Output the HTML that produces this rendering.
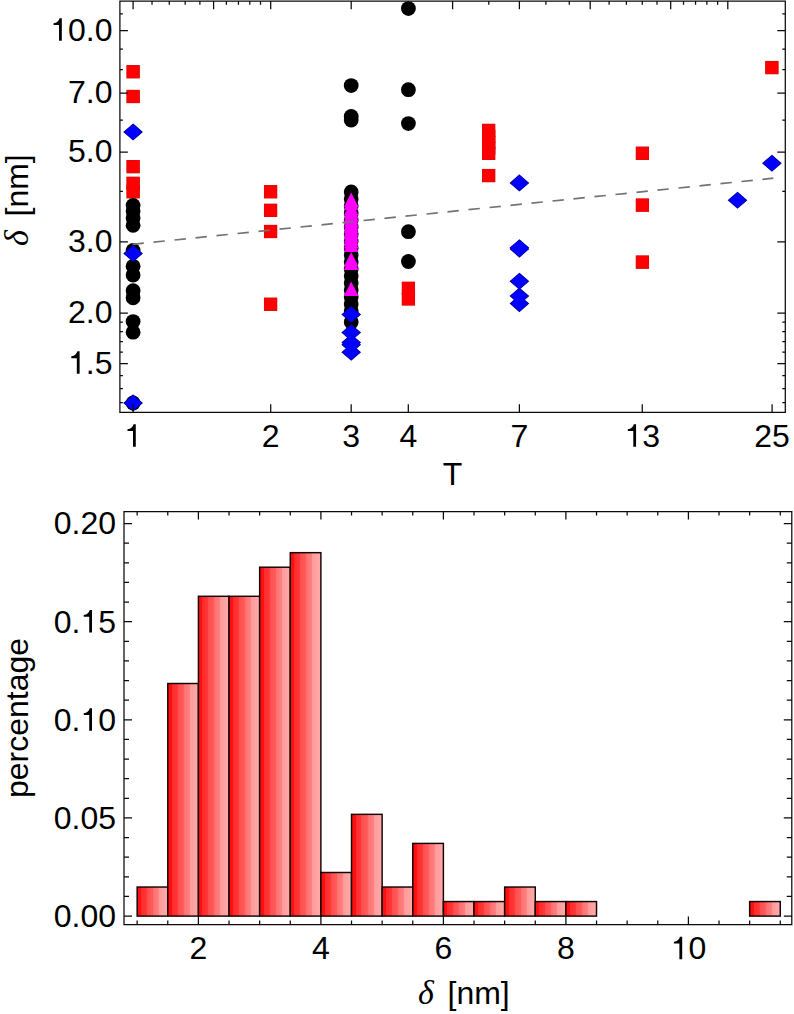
<!DOCTYPE html>
<html><head><meta charset="utf-8"><style>
html,body{margin:0;padding:0;background:#fff;}
body{width:794px;height:1014px;overflow:hidden;}
svg{display:block;}
</style></head><body>
<svg width="794" height="1014" viewBox="0 0 794 1014">
<rect width="794" height="1014" fill="#fff"/>
<g><rect x="126.90" y="65.60" width="12.4" height="12.4" fill="#c80000" stroke="#c80000" stroke-width="0.9"/><rect x="126.90" y="90.30" width="12.4" height="12.4" fill="#c80000" stroke="#c80000" stroke-width="0.9"/><rect x="126.90" y="160.50" width="12.4" height="12.4" fill="#c80000" stroke="#c80000" stroke-width="0.9"/><rect x="126.90" y="177.10" width="12.4" height="12.4" fill="#c80000" stroke="#c80000" stroke-width="0.9"/><rect x="126.90" y="185.60" width="12.4" height="12.4" fill="#c80000" stroke="#c80000" stroke-width="0.9"/><rect x="264.40" y="185.60" width="12.4" height="12.4" fill="#c80000" stroke="#c80000" stroke-width="0.9"/><rect x="264.40" y="204.10" width="12.4" height="12.4" fill="#c80000" stroke="#c80000" stroke-width="0.9"/><rect x="264.40" y="225.30" width="12.4" height="12.4" fill="#c80000" stroke="#c80000" stroke-width="0.9"/><rect x="264.40" y="298.00" width="12.4" height="12.4" fill="#c80000" stroke="#c80000" stroke-width="0.9"/><rect x="402.20" y="282.10" width="12.4" height="12.4" fill="#c80000" stroke="#c80000" stroke-width="0.9"/><rect x="402.20" y="292.70" width="12.4" height="12.4" fill="#c80000" stroke="#c80000" stroke-width="0.9"/><rect x="482.50" y="124.20" width="12.4" height="12.4" fill="#c80000" stroke="#c80000" stroke-width="0.9"/><rect x="482.50" y="130.30" width="12.4" height="12.4" fill="#c80000" stroke="#c80000" stroke-width="0.9"/><rect x="482.50" y="136.30" width="12.4" height="12.4" fill="#c80000" stroke="#c80000" stroke-width="0.9"/><rect x="482.50" y="141.80" width="12.4" height="12.4" fill="#c80000" stroke="#c80000" stroke-width="0.9"/><rect x="482.50" y="147.10" width="12.4" height="12.4" fill="#c80000" stroke="#c80000" stroke-width="0.9"/><rect x="482.50" y="169.40" width="12.4" height="12.4" fill="#c80000" stroke="#c80000" stroke-width="0.9"/><rect x="636.20" y="147.00" width="12.4" height="12.4" fill="#c80000" stroke="#c80000" stroke-width="0.9"/><rect x="636.20" y="198.90" width="12.4" height="12.4" fill="#c80000" stroke="#c80000" stroke-width="0.9"/><rect x="636.20" y="255.90" width="12.4" height="12.4" fill="#c80000" stroke="#c80000" stroke-width="0.9"/><rect x="765.70" y="61.40" width="12.4" height="12.4" fill="#c80000" stroke="#c80000" stroke-width="0.9"/><rect x="126.90" y="65.60" width="12.4" height="12.4" fill="#f00"/><rect x="126.90" y="90.30" width="12.4" height="12.4" fill="#f00"/><rect x="126.90" y="160.50" width="12.4" height="12.4" fill="#f00"/><rect x="126.90" y="177.10" width="12.4" height="12.4" fill="#f00"/><rect x="126.90" y="185.60" width="12.4" height="12.4" fill="#f00"/><rect x="264.40" y="185.60" width="12.4" height="12.4" fill="#f00"/><rect x="264.40" y="204.10" width="12.4" height="12.4" fill="#f00"/><rect x="264.40" y="225.30" width="12.4" height="12.4" fill="#f00"/><rect x="264.40" y="298.00" width="12.4" height="12.4" fill="#f00"/><rect x="402.20" y="282.10" width="12.4" height="12.4" fill="#f00"/><rect x="402.20" y="292.70" width="12.4" height="12.4" fill="#f00"/><rect x="482.50" y="124.20" width="12.4" height="12.4" fill="#f00"/><rect x="482.50" y="130.30" width="12.4" height="12.4" fill="#f00"/><rect x="482.50" y="136.30" width="12.4" height="12.4" fill="#f00"/><rect x="482.50" y="141.80" width="12.4" height="12.4" fill="#f00"/><rect x="482.50" y="147.10" width="12.4" height="12.4" fill="#f00"/><rect x="482.50" y="169.40" width="12.4" height="12.4" fill="#f00"/><rect x="636.20" y="147.00" width="12.4" height="12.4" fill="#f00"/><rect x="636.20" y="198.90" width="12.4" height="12.4" fill="#f00"/><rect x="636.20" y="255.90" width="12.4" height="12.4" fill="#f00"/><rect x="765.70" y="61.40" width="12.4" height="12.4" fill="#f00"/><circle cx="133.10" cy="205.50" r="7.4" fill="#000"/><circle cx="133.10" cy="211.00" r="7.4" fill="#000"/><circle cx="133.10" cy="218.00" r="7.4" fill="#000"/><circle cx="133.10" cy="225.30" r="7.4" fill="#000"/><circle cx="133.10" cy="250.50" r="7.4" fill="#000"/><circle cx="133.10" cy="266.30" r="7.4" fill="#000"/><circle cx="133.10" cy="275.00" r="7.4" fill="#000"/><circle cx="133.10" cy="290.70" r="7.4" fill="#000"/><circle cx="133.10" cy="297.80" r="7.4" fill="#000"/><circle cx="133.10" cy="321.60" r="7.4" fill="#000"/><circle cx="133.10" cy="332.20" r="7.4" fill="#000"/><circle cx="133.10" cy="403.00" r="7.4" fill="#000"/><circle cx="351.20" cy="85.60" r="7.4" fill="#000"/><circle cx="351.20" cy="116.50" r="7.4" fill="#000"/><circle cx="351.20" cy="120.00" r="7.4" fill="#000"/><circle cx="351.20" cy="191.90" r="7.4" fill="#000"/><circle cx="351.20" cy="198.90" r="7.4" fill="#000"/><circle cx="351.20" cy="205.90" r="7.4" fill="#000"/><circle cx="351.20" cy="212.90" r="7.4" fill="#000"/><circle cx="351.20" cy="219.90" r="7.4" fill="#000"/><circle cx="351.20" cy="226.90" r="7.4" fill="#000"/><circle cx="351.20" cy="233.90" r="7.4" fill="#000"/><circle cx="351.20" cy="240.90" r="7.4" fill="#000"/><circle cx="351.20" cy="247.90" r="7.4" fill="#000"/><circle cx="351.20" cy="254.90" r="7.4" fill="#000"/><circle cx="351.20" cy="261.90" r="7.4" fill="#000"/><circle cx="351.20" cy="268.90" r="7.4" fill="#000"/><circle cx="351.20" cy="275.90" r="7.4" fill="#000"/><circle cx="351.20" cy="282.90" r="7.4" fill="#000"/><circle cx="351.20" cy="289.90" r="7.4" fill="#000"/><circle cx="351.20" cy="296.90" r="7.4" fill="#000"/><circle cx="351.20" cy="303.90" r="7.4" fill="#000"/><circle cx="351.20" cy="310.90" r="7.4" fill="#000"/><circle cx="351.20" cy="322.00" r="7.4" fill="#000"/><circle cx="408.40" cy="8.60" r="7.4" fill="#000"/><circle cx="408.40" cy="89.70" r="7.4" fill="#000"/><circle cx="408.40" cy="123.60" r="7.4" fill="#000"/><circle cx="408.40" cy="231.70" r="7.4" fill="#000"/><circle cx="408.40" cy="261.50" r="7.4" fill="#000"/><path d="M351.20 192.50L358.50 207.10L343.90 207.10Z" fill="#f0f"/><path d="M351.20 195.50L358.50 210.10L343.90 210.10Z" fill="#f0f"/><path d="M351.20 201.00L358.50 215.60L343.90 215.60Z" fill="#f0f"/><path d="M351.20 204.00L358.50 218.60L343.90 218.60Z" fill="#f0f"/><path d="M351.20 207.00L358.50 221.60L343.90 221.60Z" fill="#f0f"/><path d="M351.20 210.00L358.50 224.60L343.90 224.60Z" fill="#f0f"/><path d="M351.20 213.00L358.50 227.60L343.90 227.60Z" fill="#f0f"/><path d="M351.20 216.00L358.50 230.60L343.90 230.60Z" fill="#f0f"/><path d="M351.20 219.00L358.50 233.60L343.90 233.60Z" fill="#f0f"/><path d="M351.20 222.00L358.50 236.60L343.90 236.60Z" fill="#f0f"/><path d="M351.20 225.00L358.50 239.60L343.90 239.60Z" fill="#f0f"/><path d="M351.20 228.00L358.50 242.60L343.90 242.60Z" fill="#f0f"/><path d="M351.20 231.00L358.50 245.60L343.90 245.60Z" fill="#f0f"/><path d="M351.20 234.00L358.50 248.60L343.90 248.60Z" fill="#f0f"/><path d="M351.20 237.30L358.50 251.90L343.90 251.90Z" fill="#f0f"/><path d="M351.20 252.00L358.50 266.60L343.90 266.60Z" fill="#f0f"/><path d="M351.20 255.50L358.50 270.10L343.90 270.10Z" fill="#f0f"/><path d="M351.20 281.50L358.50 296.10L343.90 296.10Z" fill="#f0f"/><path d="M133.10 124.25L142.05 132.00L133.10 139.75L124.15 132.00Z" fill="#000088" stroke="#000088" stroke-width="1.2"/><path d="M133.10 245.75L142.05 253.50L133.10 261.25L124.15 253.50Z" fill="#000088" stroke="#000088" stroke-width="1.2"/><path d="M133.10 395.15L142.05 402.90L133.10 410.65L124.15 402.90Z" fill="#000088" stroke="#000088" stroke-width="1.2"/><path d="M351.20 306.75L360.15 314.50L351.20 322.25L342.25 314.50Z" fill="#000088" stroke="#000088" stroke-width="1.2"/><path d="M351.20 324.85L360.15 332.60L351.20 340.35L342.25 332.60Z" fill="#000088" stroke="#000088" stroke-width="1.2"/><path d="M351.20 334.85L360.15 342.60L351.20 350.35L342.25 342.60Z" fill="#000088" stroke="#000088" stroke-width="1.2"/><path d="M351.20 336.95L360.15 344.70L351.20 352.45L342.25 344.70Z" fill="#000088" stroke="#000088" stroke-width="1.2"/><path d="M351.20 344.55L360.15 352.30L351.20 360.05L342.25 352.30Z" fill="#000088" stroke="#000088" stroke-width="1.2"/><path d="M519.40 175.15L528.35 182.90L519.40 190.65L510.45 182.90Z" fill="#000088" stroke="#000088" stroke-width="1.2"/><path d="M519.40 239.95L528.35 247.70L519.40 255.45L510.45 247.70Z" fill="#000088" stroke="#000088" stroke-width="1.2"/><path d="M519.40 241.35L528.35 249.10L519.40 256.85L510.45 249.10Z" fill="#000088" stroke="#000088" stroke-width="1.2"/><path d="M519.40 273.55L528.35 281.30L519.40 289.05L510.45 281.30Z" fill="#000088" stroke="#000088" stroke-width="1.2"/><path d="M519.40 288.35L528.35 296.10L519.40 303.85L510.45 296.10Z" fill="#000088" stroke="#000088" stroke-width="1.2"/><path d="M519.40 295.85L528.35 303.60L519.40 311.35L510.45 303.60Z" fill="#000088" stroke="#000088" stroke-width="1.2"/><path d="M737.50 192.55L746.45 200.30L737.50 208.05L728.55 200.30Z" fill="#000088" stroke="#000088" stroke-width="1.2"/><path d="M771.90 155.45L780.85 163.20L771.90 170.95L762.95 163.20Z" fill="#000088" stroke="#000088" stroke-width="1.2"/><path d="M133.10 124.25L142.05 132.00L133.10 139.75L124.15 132.00Z" fill="#00f"/><path d="M133.10 245.75L142.05 253.50L133.10 261.25L124.15 253.50Z" fill="#00f"/><path d="M133.10 395.15L142.05 402.90L133.10 410.65L124.15 402.90Z" fill="#00f"/><path d="M351.20 306.75L360.15 314.50L351.20 322.25L342.25 314.50Z" fill="#00f"/><path d="M351.20 324.85L360.15 332.60L351.20 340.35L342.25 332.60Z" fill="#00f"/><path d="M351.20 334.85L360.15 342.60L351.20 350.35L342.25 342.60Z" fill="#00f"/><path d="M351.20 336.95L360.15 344.70L351.20 352.45L342.25 344.70Z" fill="#00f"/><path d="M351.20 344.55L360.15 352.30L351.20 360.05L342.25 352.30Z" fill="#00f"/><path d="M519.40 175.15L528.35 182.90L519.40 190.65L510.45 182.90Z" fill="#00f"/><path d="M519.40 239.95L528.35 247.70L519.40 255.45L510.45 247.70Z" fill="#00f"/><path d="M519.40 241.35L528.35 249.10L519.40 256.85L510.45 249.10Z" fill="#00f"/><path d="M519.40 273.55L528.35 281.30L519.40 289.05L510.45 281.30Z" fill="#00f"/><path d="M519.40 288.35L528.35 296.10L519.40 303.85L510.45 296.10Z" fill="#00f"/><path d="M519.40 295.85L528.35 303.60L519.40 311.35L510.45 303.60Z" fill="#00f"/><path d="M737.50 192.55L746.45 200.30L737.50 208.05L728.55 200.30Z" fill="#00f"/><path d="M771.90 155.45L780.85 163.20L771.90 170.95L762.95 163.20Z" fill="#00f"/></g>
<line x1="132.5" y1="244.35" x2="773.3" y2="178.22" stroke="#737373" stroke-width="1.7" stroke-dasharray="11.4 9.71"/>
<path d="M119.9 1.2H785.3V412.3H119.9ZM119.9 30.50h8M785.3 30.50h-8M119.9 93.11h8M785.3 93.11h-8M119.9 152.18h8M785.3 152.18h-8M119.9 241.85h8M785.3 241.85h-8M119.9 313.02h8M785.3 313.02h-8M119.9 363.52h8M785.3 363.52h-8M119.9 13.77h3M785.3 13.77h-3M119.9 49.00h3M785.3 49.00h-3M119.9 69.67h3M785.3 69.67h-3M119.9 120.17h3M785.3 120.17h-3M119.9 191.35h3M785.3 191.35h-3M119.9 322.03h3M785.3 322.03h-3M119.9 331.52h3M785.3 331.52h-3M119.9 341.55h3M785.3 341.55h-3M119.9 352.19h3M785.3 352.19h-3M119.9 375.64h3M785.3 375.64h-3M119.9 388.64h3M785.3 388.64h-3M119.9 402.69h3M785.3 402.69h-3M133.10 412.3v-8M270.70 412.3v-8M351.19 412.3v-8M408.30 412.3v-8M519.39 412.3v-8M642.28 412.3v-8M772.10 412.3v-8M133.10 1.2v8M213.59 1.2v8M270.70 1.2v8M351.19 1.2v8M452.60 1.2v8M519.39 1.2v8M590.20 1.2v8M670.69 1.2v8M727.80 1.2v8M152.02 1.2v3.5M169.29 1.2v3.5M185.18 1.2v3.5M199.90 1.2v3.5M226.40 1.2v3.5M238.44 1.2v3.5M249.79 1.2v3.5M260.52 1.2v3.5M408.30 1.2v3.5M488.79 1.2v3.5M545.90 1.2v3.5M569.28 1.2v3.5M609.12 1.2v3.5M626.39 1.2v3.5M642.28 1.2v3.5M657.00 1.2v3.5M683.50 1.2v3.5M695.54 1.2v3.5M706.89 1.2v3.5M717.62 1.2v3.5" fill="none" stroke="#0a0a0a" stroke-width="1.25"/>
<defs><linearGradient id="bg" x1="0" x2="1" y1="0" y2="0"><stop offset="0" stop-color="#f41010"/><stop offset="0.13" stop-color="#ff1010"/><stop offset="0.13" stop-color="#ff2a2a"/><stop offset="0.325" stop-color="#ff3838"/><stop offset="0.325" stop-color="#ff4c4c"/><stop offset="0.522" stop-color="#ff5c5c"/><stop offset="0.522" stop-color="#ff6e6e"/><stop offset="0.719" stop-color="#ff8282"/><stop offset="0.719" stop-color="#ff9a9a"/><stop offset="1" stop-color="#ffaaaa"/></linearGradient></defs>
<g><rect x="137.15" y="887.03" width="30.62" height="29.07" fill="url(#bg)" stroke="#140404" stroke-width="1.45"/><rect x="167.78" y="683.51" width="30.62" height="232.59" fill="url(#bg)" stroke="#140404" stroke-width="1.45"/><rect x="198.40" y="596.29" width="30.62" height="319.81" fill="url(#bg)" stroke="#140404" stroke-width="1.45"/><rect x="229.03" y="596.29" width="30.62" height="319.81" fill="url(#bg)" stroke="#140404" stroke-width="1.45"/><rect x="259.65" y="567.21" width="30.62" height="348.89" fill="url(#bg)" stroke="#140404" stroke-width="1.45"/><rect x="290.27" y="552.67" width="30.62" height="363.43" fill="url(#bg)" stroke="#140404" stroke-width="1.45"/><rect x="320.90" y="872.49" width="30.62" height="43.61" fill="url(#bg)" stroke="#140404" stroke-width="1.45"/><rect x="351.52" y="814.34" width="30.62" height="101.76" fill="url(#bg)" stroke="#140404" stroke-width="1.45"/><rect x="382.15" y="887.03" width="30.62" height="29.07" fill="url(#bg)" stroke="#140404" stroke-width="1.45"/><rect x="412.77" y="843.41" width="30.62" height="72.69" fill="url(#bg)" stroke="#140404" stroke-width="1.45"/><rect x="443.40" y="901.56" width="30.62" height="14.54" fill="url(#bg)" stroke="#140404" stroke-width="1.45"/><rect x="474.02" y="901.56" width="30.62" height="14.54" fill="url(#bg)" stroke="#140404" stroke-width="1.45"/><rect x="504.65" y="887.03" width="30.62" height="29.07" fill="url(#bg)" stroke="#140404" stroke-width="1.45"/><rect x="535.27" y="901.56" width="30.62" height="14.54" fill="url(#bg)" stroke="#140404" stroke-width="1.45"/><rect x="565.90" y="901.56" width="30.62" height="14.54" fill="url(#bg)" stroke="#140404" stroke-width="1.45"/><rect x="749.65" y="901.56" width="30.62" height="14.54" fill="url(#bg)" stroke="#140404" stroke-width="1.45"/></g>
<path d="M124.0 511.6H791.8V924.6H124.0ZM124.0 916.10h8M791.8 916.10h-8M124.0 896.48h5M791.8 896.48h-5M124.0 876.85h5M791.8 876.85h-5M124.0 857.23h5M791.8 857.23h-5M124.0 837.60h5M791.8 837.60h-5M124.0 817.98h8M791.8 817.98h-8M124.0 798.35h5M791.8 798.35h-5M124.0 778.73h5M791.8 778.73h-5M124.0 759.10h5M791.8 759.10h-5M124.0 739.48h5M791.8 739.48h-5M124.0 719.85h8M791.8 719.85h-8M124.0 700.23h5M791.8 700.23h-5M124.0 680.60h5M791.8 680.60h-5M124.0 660.98h5M791.8 660.98h-5M124.0 641.35h5M791.8 641.35h-5M124.0 621.73h8M791.8 621.73h-8M124.0 602.10h5M791.8 602.10h-5M124.0 582.48h5M791.8 582.48h-5M124.0 562.85h5M791.8 562.85h-5M124.0 543.23h5M791.8 543.23h-5M124.0 523.60h8M791.8 523.60h-8M137.15 924.6v-4M137.15 511.6v4M167.78 924.6v-4M167.78 511.6v4M198.40 924.6v-8M198.40 511.6v8M229.03 924.6v-4M229.03 511.6v4M259.65 924.6v-4M259.65 511.6v4M290.27 924.6v-4M290.27 511.6v4M320.90 924.6v-8M320.90 511.6v8M351.52 924.6v-4M351.52 511.6v4M382.15 924.6v-4M382.15 511.6v4M412.77 924.6v-4M412.77 511.6v4M443.40 924.6v-8M443.40 511.6v8M474.02 924.6v-4M474.02 511.6v4M504.65 924.6v-4M504.65 511.6v4M535.27 924.6v-4M535.27 511.6v4M565.90 924.6v-8M565.90 511.6v8M596.52 924.6v-4M596.52 511.6v4M627.15 924.6v-4M627.15 511.6v4M657.77 924.6v-4M657.77 511.6v4M688.40 924.6v-8M688.40 511.6v8M719.02 924.6v-4M719.02 511.6v4M749.65 924.6v-4M749.65 511.6v4M780.27 924.6v-4M780.27 511.6v4" fill="none" stroke="#0a0a0a" stroke-width="1.25"/>
<g font-family='"Liberation Sans", sans-serif' font-size="32" fill="#000"><path transform="translate(50.23 40.80) scale(0.0320 -0.0320)" d="M362 0V703H292C272 622 214 560 103 546V490H275V0Z"/><text x="68.02" y="40.80">0.0</text><text x="68.02" y="103.41">7.0</text><text x="68.02" y="162.48">5.0</text><text x="68.02" y="252.15">3.0</text><text x="68.02" y="323.32">2.0</text><path transform="translate(68.02 373.82) scale(0.0320 -0.0320)" d="M362 0V703H292C272 622 214 560 103 546V490H275V0Z"/><text x="85.81" y="373.82">.5</text><path transform="translate(124.20 446.80) scale(0.0320 -0.0320)" d="M362 0V703H292C272 622 214 560 103 546V490H275V0Z"/><text x="261.80" y="446.80">2</text><text x="342.30" y="446.80">3</text><text x="399.41" y="446.80">4</text><text x="510.50" y="446.80">7</text><path transform="translate(624.49 446.80) scale(0.0320 -0.0320)" d="M362 0V703H292C272 622 214 560 103 546V490H275V0Z"/><text x="642.28" y="446.80">3</text><text x="754.31" y="446.80">25</text><text x="452.5" y="484.6" text-anchor="middle">T</text><g transform="translate(27.8 0) rotate(-90)"><text x="-246" y="0" font-family='"Liberation Serif", serif' font-style="italic" font-size="34">δ</text><text x="-216.5" y="0">[nm]</text></g><text x="53.73" y="926.90">0.00</text><text x="53.73" y="828.77">0.05</text><text x="53.73" y="730.65">0.</text><path transform="translate(80.42 730.65) scale(0.0320 -0.0320)" d="M362 0V703H292C272 622 214 560 103 546V490H275V0Z"/><text x="98.21" y="730.65">0</text><text x="53.73" y="632.52">0.</text><path transform="translate(80.42 632.52) scale(0.0320 -0.0320)" d="M362 0V703H292C272 622 214 560 103 546V490H275V0Z"/><text x="98.21" y="632.52">5</text><text x="53.73" y="534.40">0.20</text><text x="189.50" y="959.20">2</text><text x="312.00" y="959.20">4</text><text x="434.50" y="959.20">6</text><text x="557.00" y="959.20">8</text><path transform="translate(670.61 959.20) scale(0.0320 -0.0320)" d="M362 0V703H292C272 622 214 560 103 546V490H275V0Z"/><text x="688.40" y="959.20">0</text><text x="418" y="1004.3" font-family='"Liberation Serif", serif' font-style="italic" font-size="34">δ</text><text x="447.5" y="1004.3">[nm]</text><g transform="translate(28.3 718) rotate(-90)"><text x="0" y="0" text-anchor="middle">percentage</text></g></g>
</svg>
</body></html>
